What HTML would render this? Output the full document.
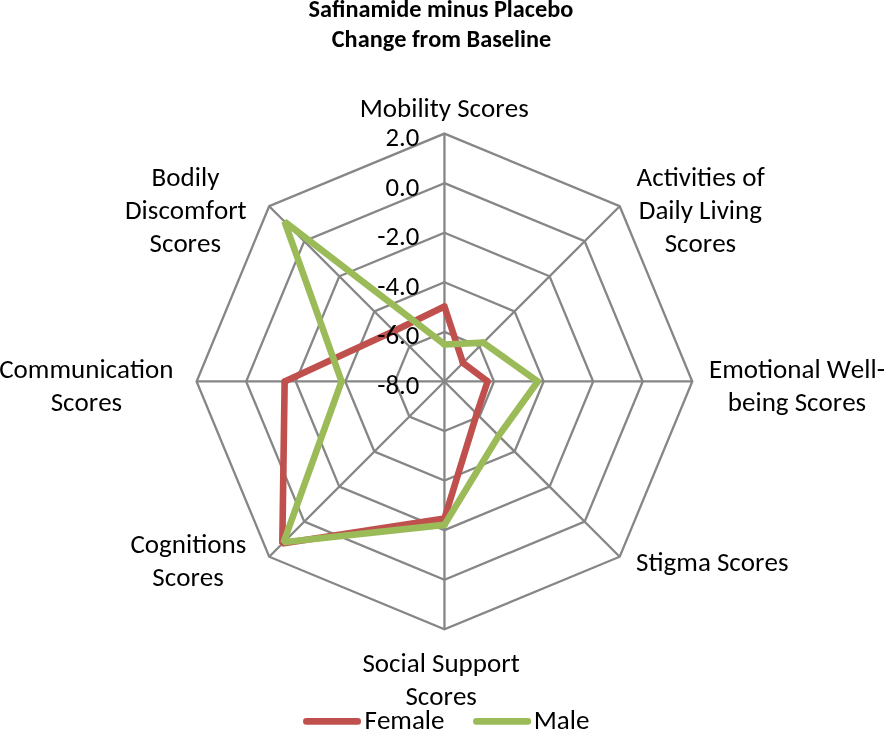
<!DOCTYPE html>
<html lang="en">
<head>
<meta charset="utf-8">
<title>Safinamide minus Placebo - Change from Baseline</title>
<style>
html,body{margin:0;padding:0;background:#fff;}
body{width:884px;height:730px;overflow:hidden;}
svg{display:block;}
text{font-family:"Carlito","Liberation Sans",sans-serif;fill:#000;font-size-adjust:0.4775;font-kerning:none;}
.l{font-size:26.8px;}
.t{font-size:24.2px;font-weight:bold;font-size-adjust:0.4849;}
.grid{fill:none;stroke:#868686;stroke-width:2.3;stroke-linejoin:miter;}
.ser{fill:none;stroke-width:6.60;stroke-linejoin:bevel;}
</style>
</head>
<body>
<svg width="884" height="730" viewBox="0 0 884 730">
<rect width="884" height="730" fill="#ffffff"/>
<g class="grid">
<polygon points="444.45,331.88 479.50,346.40 494.02,381.45 479.50,416.50 444.45,431.02 409.40,416.50 394.88,381.45 409.40,346.40"/>
<polygon points="444.45,282.31 514.55,311.35 543.59,381.45 514.55,451.55 444.45,480.59 374.35,451.55 345.31,381.45 374.35,311.35"/>
<polygon points="444.45,232.74 549.60,276.30 593.16,381.45 549.60,486.60 444.45,530.16 339.30,486.60 295.74,381.45 339.30,276.30"/>
<polygon points="444.45,183.17 584.66,241.24 642.73,381.45 584.66,521.66 444.45,579.73 304.24,521.66 246.17,381.45 304.24,241.24"/>
<polygon points="444.45,133.60 619.71,206.19 692.30,381.45 619.71,556.71 444.45,629.30 269.19,556.71 196.60,381.45 269.19,206.19"/>
<line x1="444.45" y1="381.45" x2="444.45" y2="133.60"/>
<line x1="444.45" y1="381.45" x2="619.71" y2="206.19"/>
<line x1="444.45" y1="381.45" x2="692.30" y2="381.45"/>
<line x1="444.45" y1="381.45" x2="619.71" y2="556.71"/>
<line x1="444.45" y1="381.45" x2="444.45" y2="629.30"/>
<line x1="444.45" y1="381.45" x2="269.19" y2="556.71"/>
<line x1="444.45" y1="381.45" x2="196.60" y2="381.45"/>
<line x1="444.45" y1="381.45" x2="269.19" y2="206.19"/>
</g>
<polygon class="ser" stroke="#C0504D" points="444.45,306.45 462.98,362.92 487.55,381.45 476.76,413.76 444.45,518.45 282.31,543.59 284.65,381.45 394.03,331.03"/>
<g fill="#C0504D">
<polygon points="444.45,306.45 443.00,303.48 444.35,302.83 447.12,304.00 447.59,305.42"/>
<circle cx="462.98" cy="362.92" r="3.30"/>
<circle cx="487.55" cy="381.45" r="3.30"/>
<circle cx="476.76" cy="413.76" r="3.30"/>
<circle cx="444.45" cy="518.45" r="3.30"/>
<circle cx="284.65" cy="381.45" r="3.30"/>
<circle cx="394.03" cy="331.03" r="3.30"/>
</g>
<polygon class="ser" stroke="#9BBB59" points="444.45,344.45 483.27,342.63 537.75,381.45 498.69,435.69 444.45,524.85 283.58,542.32 341.55,381.45 284.57,221.57"/>
<g fill="#9BBB59">
<circle cx="444.45" cy="344.45" r="3.30"/>
<circle cx="483.27" cy="342.63" r="3.30"/>
<polygon points="537.75,381.45 539.67,378.76 540.78,379.56 541.23,382.27 540.43,383.38"/>
<circle cx="498.69" cy="435.69" r="3.30"/>
<circle cx="444.45" cy="524.85" r="3.30"/>
<circle cx="341.55" cy="381.45" r="3.30"/>
</g>
<g>
<text class="t" x="440.9" y="17.3" text-anchor="middle" textLength="264.7" lengthAdjust="spacingAndGlyphs">Safinamide minus Placebo</text>
<text class="t" x="441.5" y="46.6" text-anchor="middle" textLength="219.5" lengthAdjust="spacingAndGlyphs">Change from Baseline</text>
<text class="l" x="444.2" y="117.0" text-anchor="middle" textLength="169.1" lengthAdjust="spacingAndGlyphs">Mobility Scores</text>
<text class="l" x="700.7" y="185.9" text-anchor="middle" textLength="128.2" lengthAdjust="spacingAndGlyphs">Activities of</text>
<text class="l" x="700.4" y="219.2" text-anchor="middle" textLength="123.2" lengthAdjust="spacingAndGlyphs">Daily Living</text>
<text class="l" x="700.4" y="251.9" text-anchor="middle" textLength="71.5" lengthAdjust="spacingAndGlyphs">Scores</text>
<text class="l" x="797.0" y="377.5" text-anchor="middle" textLength="176.0" lengthAdjust="spacingAndGlyphs">Emotional Well-</text>
<text class="l" x="797.0" y="411.1" text-anchor="middle" textLength="138.4" lengthAdjust="spacingAndGlyphs">being Scores</text>
<text class="l" x="712.3" y="570.6" text-anchor="middle" textLength="152.4" lengthAdjust="spacingAndGlyphs">Stigma Scores</text>
<text class="l" x="441.1" y="671.7" text-anchor="middle" textLength="157.3" lengthAdjust="spacingAndGlyphs">Social Support</text>
<text class="l" x="441.2" y="705.1" text-anchor="middle" textLength="71.5" lengthAdjust="spacingAndGlyphs">Scores</text>
<text class="l" x="188.4" y="552.8" text-anchor="middle" textLength="115.9" lengthAdjust="spacingAndGlyphs">Cognitions</text>
<text class="l" x="188.1" y="586.0" text-anchor="middle" textLength="71.5" lengthAdjust="spacingAndGlyphs">Scores</text>
<text class="l" x="86.3" y="377.7" text-anchor="middle" textLength="174.3" lengthAdjust="spacingAndGlyphs">Communication</text>
<text class="l" x="86.4" y="411.1" text-anchor="middle" textLength="71.5" lengthAdjust="spacingAndGlyphs">Scores</text>
<text class="l" x="185.5" y="185.8" text-anchor="middle" textLength="67.8" lengthAdjust="spacingAndGlyphs">Bodily</text>
<text class="l" x="185.8" y="219.0" text-anchor="middle" textLength="121.6" lengthAdjust="spacingAndGlyphs">Discomfort</text>
<text class="l" x="185.3" y="251.7" text-anchor="middle" textLength="71.5" lengthAdjust="spacingAndGlyphs">Scores</text>
<text class="l" x="419.4" y="145.9" text-anchor="end" textLength="33.9" lengthAdjust="spacingAndGlyphs">2.0</text>
<text class="l" x="419.4" y="195.5" text-anchor="end" textLength="33.9" lengthAdjust="spacingAndGlyphs">0.0</text>
<text class="l" x="419.4" y="245.0" text-anchor="end" textLength="42.1" lengthAdjust="spacingAndGlyphs">-2.0</text>
<text class="l" x="419.4" y="294.6" text-anchor="end" textLength="42.1" lengthAdjust="spacingAndGlyphs">-4.0</text>
<text class="l" x="419.4" y="344.2" text-anchor="end" textLength="42.1" lengthAdjust="spacingAndGlyphs">-6.0</text>
<text class="l" x="419.4" y="393.8" text-anchor="end" textLength="42.1" lengthAdjust="spacingAndGlyphs">-8.0</text>
<text class="l" x="364.5" y="729.2" text-anchor="start" textLength="80.0" lengthAdjust="spacingAndGlyphs">Female</text>
<text class="l" x="533.7" y="729.2" text-anchor="start" textLength="55.7" lengthAdjust="spacingAndGlyphs">Male</text>
</g>
<line x1="306.35" y1="721.4" x2="357.7" y2="721.4" stroke="#C0504D" stroke-width="6.6" stroke-linecap="round"/>
<line x1="476.35" y1="721.4" x2="527.85" y2="721.4" stroke="#9BBB59" stroke-width="6.6" stroke-linecap="round"/>
</svg>
</body>
</html>
